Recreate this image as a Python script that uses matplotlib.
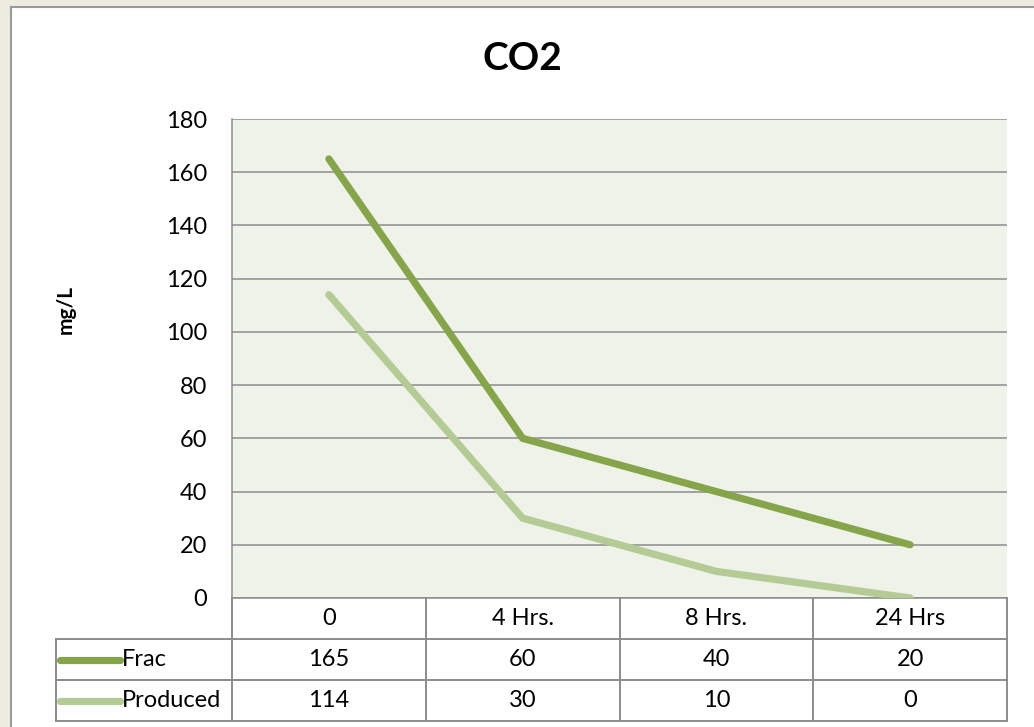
import matplotlib.pyplot as plt
from matplotlib.patches import Rectangle

plt.rcParams['font.family'] = ['Lato', 'DejaVu Sans']

COLOR_PAGE = '#eeebe0'
COLOR_PLOT = '#eff2e9'
COLOR_RULE = '#8c8c8c'
COLOR_FRAC = '#86a44a'
COLOR_PROD = '#b5cb95'

categories = ['0', '4 Hrs.', '8 Hrs.', '24 Hrs']
series_names = ['Frac', 'Produced']
frac = [165, 60, 40, 20]
produced = [114, 30, 10, 0]
y_ticks = [0, 20, 40, 60, 80, 100, 120, 140, 160, 180]

W, H = 1034, 727
FS = 17


def box(x0, y0, x1, y1):
    # pixel box (top-left origin) -> figure fraction rect
    return [x0 / W, 1 - y1 / H, (x1 - x0) / W, (y1 - y0) / H]


fig = plt.figure(figsize=(W / 100, H / 100), dpi=100, facecolor=COLOR_PAGE)
fig.patches.append(Rectangle((11 / W, -0.1), 1.2, 1 - 7 / H + 0.1, transform=fig.transFigure,
                             facecolor='white', edgecolor='#9a9a9a', linewidth=1.5, zorder=-5))

ax = fig.add_axes(box(232, 119, 1007, 598))
ax.set_facecolor(COLOR_PLOT)
x = range(len(categories))
ax.plot(x, frac, color=COLOR_FRAC, linewidth=5.2, solid_capstyle='round', solid_joinstyle='round', zorder=3)
ax.plot(x, produced, color=COLOR_PROD, linewidth=5.2, solid_capstyle='round', solid_joinstyle='round', zorder=3)
ax.set_xlim(-0.5, len(categories) - 0.5)
ax.set_ylim(0, 180)
ax.set_yticks(y_ticks)
ax.set_xticks([])
ax.grid(axis='y', color=COLOR_RULE, linewidth=1.1, zorder=1)
ax.set_axisbelow(True)
for s in ['top', 'right']:
    ax.spines[s].set_visible(False)
for s in ['left', 'bottom']:
    ax.spines[s].set_color(COLOR_RULE)
    ax.spines[s].set_linewidth(1.1)
ax.tick_params(axis='y', length=0, pad=18, labelsize=FS)

# data table below the plot
col_w = (1007 - 232) / len(categories)
legend_w = (232 - 56) / col_w
tx = fig.add_axes(box(56, 598, 1007, 721))
tx.set_xlim(-0.5 - legend_w, len(categories) - 0.5)
tx.set_ylim(0, 3)
tx.axis('off')
left = -0.5 - legend_w
right = len(categories) - 0.5
lw = 1.4
for yy in (0, 1, 2):
    tx.plot([left, right], [yy, yy], color=COLOR_RULE, linewidth=lw, clip_on=False)
tx.plot([left, left], [0, 2], color=COLOR_RULE, linewidth=lw, clip_on=False)
for i in range(len(categories) + 1):
    tx.plot([i - 0.5, i - 0.5], [0, 3], color=COLOR_RULE, linewidth=lw, clip_on=False)
for i, c in enumerate(categories):
    tx.text(i, 2.5, c, ha='center', va='center', fontsize=FS)
rows = [(series_names[0], frac, COLOR_FRAC), (series_names[1], produced, COLOR_PROD)]
for r, (name, vals, col) in enumerate(rows):
    yy = 1.5 - r
    tx.plot([left + 4 / col_w, left + 64 / col_w], [yy, yy], color=col, linewidth=5.2,
            solid_capstyle='round', clip_on=False)
    tx.text(left + 66 / col_w, yy, name, ha='left', va='center', fontsize=FS)
    for i, v in enumerate(vals):
        tx.text(i, yy, str(v), ha='center', va='center', fontsize=FS)

fig.text(522 / W, 1 - 58 / H, 'CO2', ha='center', va='center', fontsize=28, fontweight='bold')
fig.text(66 / W, 1 - 310 / H, 'mg/L', ha='center', va='center', rotation=90, fontsize=15, fontweight='bold')

fig.savefig('out.png', dpi=100, facecolor=COLOR_PAGE)
